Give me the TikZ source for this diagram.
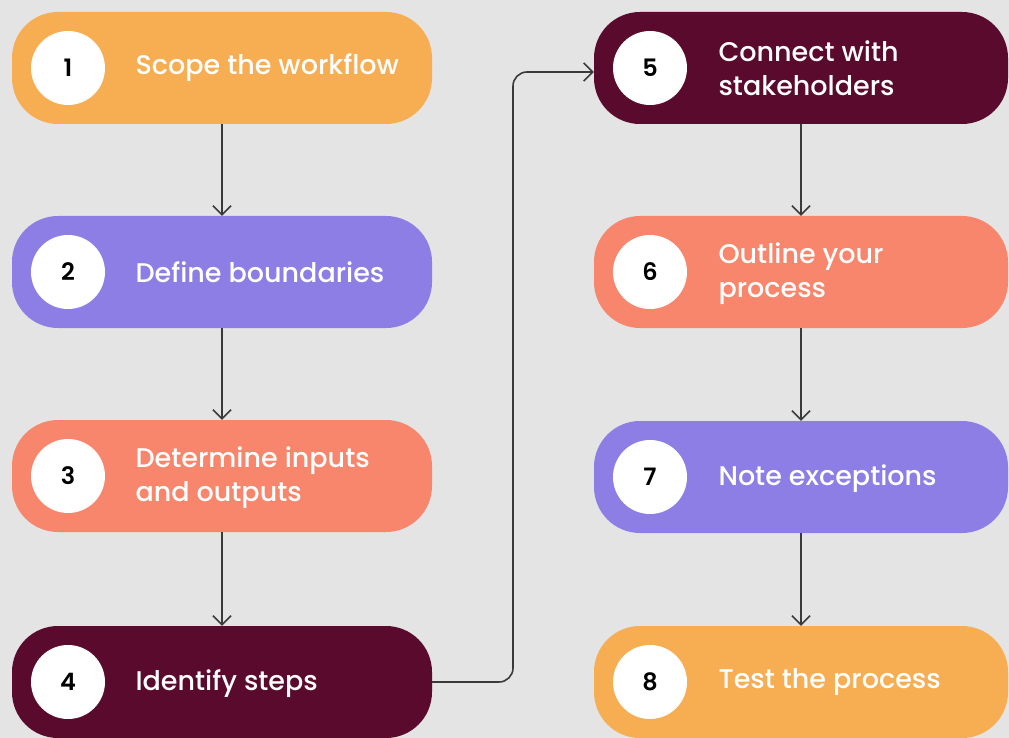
\documentclass[tikz,border=0pt]{standalone}
\usepackage{fontspec}
\setmainfont{Poppins}[BoldFont={Poppins SemiBold}]
\newfontfamily\medfont{Poppins Medium}
\usetikzlibrary{arrows.meta}
\definecolor{bg}{HTML}{E4E4E4}
\definecolor{corange}{HTML}{F7AD52}
\definecolor{cpurple}{HTML}{8C7EE4}
\definecolor{ccoral}{HTML}{F7866C}
\definecolor{cmaroon}{HTML}{5A0A2C}
\definecolor{cline}{HTML}{3A3A3A}
\tikzset{
  stepbox/.style={rounded corners=46pt, minimum width=420pt, minimum height=112pt, inner sep=0pt},
  numcirc/.style={circle, fill=white, minimum size=74pt, inner sep=0pt, font=\fontsize{24}{26}\selectfont\bfseries, text=black},
  steptext/.style={anchor=west, align=left, text=white, font=\medfont\fontsize{27}{34}\selectfont},
  conn/.style={draw=cline, line width=1.6pt, -{Straight Barb[length=9pt,width=18pt,line width=1.6pt]}},
}
\begin{document}
\begin{tikzpicture}[x=1pt,y=-1pt]
\fill[bg] (0,0) rectangle (1009,738);
\useasboundingbox (0,0) rectangle (1009,738);
% left column
\node[stepbox, fill=corange] (b1) at (222,68) {};
\node[stepbox, fill=cpurple] (b2) at (222,272) {};
\node[stepbox, fill=ccoral] (b3) at (222,476) {};
\node[stepbox, fill=cmaroon] (b4) at (222,682) {};
% right column
\node[stepbox, minimum width=414pt, fill=cmaroon] (b5) at (801,68) {};
\node[stepbox, minimum width=414pt, fill=ccoral] (b6) at (801,272) {};
\node[stepbox, minimum width=414pt, fill=cpurple] (b7) at (801,477) {};
\node[stepbox, minimum width=414pt, fill=corange] (b8) at (801,682) {};
% circles
\node[numcirc] (c1) at (68,68) {1};
\node[numcirc] (c2) at (68,272) {2};
\node[numcirc] (c3) at (68,476) {3};
\node[numcirc] (c4) at (68,682) {4};
\node[numcirc] (c5) at (650,68) {5};
\node[numcirc] (c6) at (650,272) {6};
\node[numcirc] (c7) at (650,477) {7};
\node[numcirc] (c8) at (650,682) {8};
% texts
\node[steptext] (t1) at (132,68) {Scope the workflow};
\node[steptext] (t2) at (132,272) {Define boundaries};
\node[steptext] (t3) at (132,478) {Determine inputs\\and outputs};
\node[steptext] (t4) at (132,684) {Identify steps};
\node[steptext] (t5) at (715,68) {Connect with\\stakeholders};
\node[steptext] (t6) at (715,274) {Outline your\\process};
\node[steptext] (t7) at (715,479) {Note exceptions};
\node[steptext] (t8) at (715,682) {Test the process};
% connectors
\draw[conn] (b1.south) -- (b2.north);
\draw[conn] (b2.south) -- (b3.north);
\draw[conn] (b3.south) -- (b4.north);
\draw[conn] (b5.south) -- (b6.north);
\draw[conn] (b6.south) -- (b7.north);
\draw[conn] (b7.south) -- (b8.north);
\draw[conn, rounded corners=14pt] (b4.east) -- (513,682) -- (513,72) -- (b5.west |- 0,72);
\end{tikzpicture}
\end{document}
